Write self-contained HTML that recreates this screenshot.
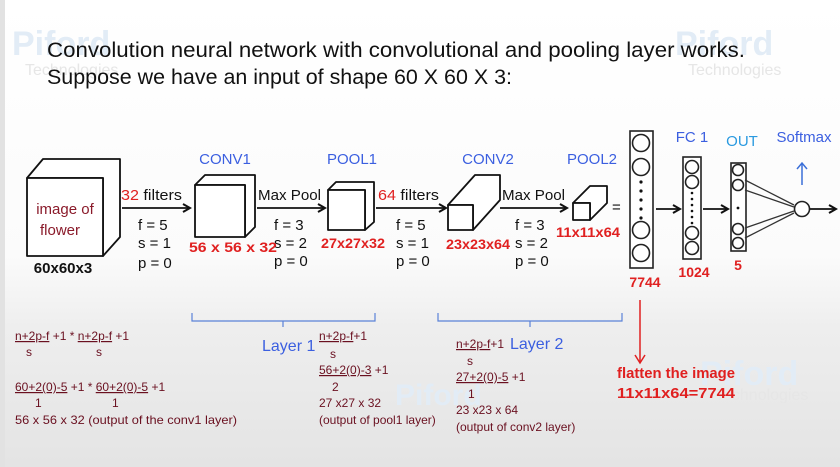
<!DOCTYPE html>
<html><head><meta charset="utf-8"><style>
html,body{margin:0;padding:0;width:840px;height:467px;overflow:hidden;}
svg{display:block;}
text{font-family:"Liberation Sans Narrow","Liberation Sans",sans-serif;}
</style></head><body>
<svg width="840" height="467" viewBox="0 0 840 467" xmlns="http://www.w3.org/2000/svg">
<defs>
<linearGradient id="bg" x1="0" y1="0" x2="0" y2="1">
<stop offset="0" stop-color="#ffffff"/><stop offset="0.55" stop-color="#fbfbfb"/><stop offset="0.7" stop-color="#eeeeee"/><stop offset="1" stop-color="#e4e4e4"/>
</linearGradient>
<marker id="ah" markerWidth="10" markerHeight="10" refX="8" refY="5" orient="auto" markerUnits="userSpaceOnUse"><path d="M1,1 L8,5 L1,9" fill="none" stroke="#111" stroke-width="2"/></marker>
</defs>
<rect width="840" height="467" fill="url(#bg)"/>
<rect x="0" y="0" width="5" height="467" fill="#e2e2e2"/>

<!-- watermarks -->
<g fill="#e2ecf6" font-weight="bold" font-family="Liberation Sans">
<text x="12" y="55" font-size="34">Piford</text>
<text x="675" y="55" font-size="34">Piford</text>
<text x="700" y="385" font-size="34">Piford</text>
<text x="395" y="405" font-size="30">Piford</text>
</g>
<g fill="#e6e6e6" font-size="16">
<text x="25" y="75">Technologies</text>
<text x="688" y="75">Technologies</text>
<text x="715" y="400">Technologies</text>
</g>

<text x="47" y="57" font-size="21" fill="#111" textLength="698" lengthAdjust="spacingAndGlyphs">Convolution neural network with convolutional and pooling layer works.</text>
<text x="47" y="84" font-size="21" fill="#111" textLength="465" lengthAdjust="spacingAndGlyphs">Suppose we have an input of shape 60 X 60 X 3:</text>

<g fill="#fff" stroke="#111" stroke-width="1.8" stroke-linejoin="round">
<path d="M27,178 L43,159 L120,159 L120,237 L103,256 L103,178 Z"/>
<rect x="27" y="178" width="76" height="78"/>
<path d="M195,185 L205,175 L255,175 L255,227 L245,237 L245,185 Z"/>
<rect x="195" y="185" width="50" height="52"/>
<path d="M328,190 L336,182 L374,182 L374,222 L365,230 L365,190 Z"/>
<rect x="328" y="190" width="37" height="40"/>
<path d="M448,205 L475,175 L500,175 L500,200 L473,230 L473,205 Z"/>
<rect x="448" y="205" width="25" height="25"/>
<path d="M573,203 L590,186 L607,186 L607,203 L590,220 L590,203 Z"/>
<rect x="573" y="203" width="17" height="17"/>
</g>

<text x="65" y="214" font-size="15" fill="#8a1a2a" text-anchor="middle">image of</text>
<text x="60" y="235" font-size="15" fill="#8a1a2a" text-anchor="middle">flower</text>
<text x="63" y="273" font-size="15" fill="#111" text-anchor="middle" font-weight="bold">60x60x3</text>

<g stroke="#111" stroke-width="1.8" marker-end="url(#ah)">
<line x1="122" y1="208" x2="190" y2="208"/>
<line x1="257" y1="208" x2="325" y2="208"/>
<line x1="376" y1="208" x2="446" y2="208"/>
<line x1="500" y1="208" x2="567" y2="208"/>
<line x1="656" y1="209" x2="680" y2="209"/>
<line x1="703" y1="209" x2="728" y2="209"/>
<line x1="810" y1="209" x2="836" y2="209"/>
</g>

<g font-size="15" fill="#111">
<text x="121" y="200" textLength="61" lengthAdjust="spacingAndGlyphs"><tspan fill="#e02020">32</tspan> filters</text>
<text x="138" y="230">f = 5</text><text x="138" y="248">s = 1</text><text x="138" y="268">p = 0</text>
<text x="258" y="200" textLength="63" lengthAdjust="spacingAndGlyphs">Max Pool</text>
<text x="274" y="230">f = 3</text><text x="274" y="248">s = 2</text><text x="274" y="266">p = 0</text>
<text x="378" y="200" textLength="61" lengthAdjust="spacingAndGlyphs"><tspan fill="#e02020">64</tspan> filters</text>
<text x="396" y="230">f = 5</text><text x="396" y="248">s = 1</text><text x="396" y="266">p = 0</text>
<text x="502" y="200" textLength="63" lengthAdjust="spacingAndGlyphs">Max Pool</text>
<text x="515" y="230">f = 3</text><text x="515" y="248">s = 2</text><text x="515" y="266">p = 0</text>
<text x="612" y="212">=</text>
</g>
<g font-size="15" fill="#3b5fe0" text-anchor="middle">
<text x="225" y="164">CONV1</text><text x="352" y="164">POOL1</text>
<text x="488" y="164">CONV2</text><text x="592" y="164">POOL2</text>
<text x="692" y="142">FC 1</text><text x="742" y="146" fill="#2a9ae0">OUT</text><text x="804" y="142">Softmax</text>
</g>
<g font-size="14" fill="#e02020" text-anchor="middle" font-weight="bold">
<text x="233" y="252" textLength="88" lengthAdjust="spacingAndGlyphs">56 x 56 x 32</text>
<text x="353" y="248" textLength="64" lengthAdjust="spacingAndGlyphs">27x27x32</text>
<text x="478" y="249" textLength="64" lengthAdjust="spacingAndGlyphs">23x23x64</text>
<text x="588" y="237" textLength="64" lengthAdjust="spacingAndGlyphs">11x11x64</text>
<text x="645" y="287">7744</text><text x="694" y="277">1024</text><text x="738" y="270">5</text>
</g>

<g fill="#fff" stroke="#222" stroke-width="1.6">
<rect x="630" y="131" width="23" height="137"/>
<circle cx="641" cy="143" r="8.5"/><circle cx="641" cy="167" r="8.5"/>
<circle cx="641" cy="230" r="8.5"/><circle cx="641" cy="253" r="8.5"/>
<rect x="683" y="157" width="18" height="102"/>
<circle cx="692" cy="167" r="6.5"/><circle cx="692" cy="182" r="6.5"/>
<circle cx="692" cy="233" r="6.5"/><circle cx="692" cy="248" r="6.5"/>
<rect x="731" y="163" width="15" height="88"/>
<circle cx="738" cy="170" r="5.5"/><circle cx="738" cy="185" r="5.5"/>
<circle cx="738" cy="229" r="5.5"/><circle cx="738" cy="243" r="5.5"/>
<circle cx="802" cy="209" r="7.5"/>
</g>
<g fill="#111">
<circle cx="641" cy="182" r="1.6"/><circle cx="641" cy="191" r="1.6"/><circle cx="641" cy="200" r="1.6"/><circle cx="641" cy="209" r="1.6"/><circle cx="641" cy="218" r="1.6"/>
<circle cx="692" cy="193" r="1.3"/><circle cx="692" cy="199" r="1.3"/><circle cx="692" cy="205" r="1.3"/><circle cx="692" cy="211" r="1.3"/><circle cx="692" cy="217" r="1.3"/><circle cx="692" cy="223" r="1.3"/>
<circle cx="738" cy="208" r="1.4"/>
</g>
<g stroke="#333" stroke-width="1.3">
<line x1="745" y1="180" x2="794" y2="205"/><line x1="745" y1="190" x2="794" y2="207"/>
<line x1="745" y1="228" x2="794" y2="211"/><line x1="745" y1="238" x2="794" y2="213"/>
</g>
<g stroke="#3b6fd8" stroke-width="1.5" fill="none">
<line x1="802" y1="185" x2="802" y2="163"/>
<path d="M797,169 L802,163 L807,169"/>
</g>

<g fill="none" stroke="#5a82d8" stroke-width="1.2">
<path d="M192,313 L192,321 L375,321 L375,313 M283,321 L283,327"/>
<path d="M438,313 L438,321 L622,321 L622,313 M530,321 L530,327"/>
</g>
<g stroke="#e02020" stroke-width="1.5" fill="none">
<line x1="640" y1="300" x2="640" y2="363"/>
<path d="M635,355 L640,363 L645,355"/>
</g>
<text x="262" y="351" font-size="16" fill="#3b5fe0">Layer 1</text>
<text x="510" y="349" font-size="16" fill="#3b5fe0">Layer 2</text>

<g font-size="12" fill="#6a1020">
<text x="15" y="340"><tspan text-decoration="underline">n+2p-f</tspan> +1  *  <tspan text-decoration="underline">n+2p-f</tspan> +1</text>
<text x="26" y="356">s</text><text x="96" y="356">s</text>
<text x="15" y="391"><tspan text-decoration="underline">60+2(0)-5</tspan> +1 * <tspan text-decoration="underline">60+2(0)-5</tspan> +1</text>
<text x="35" y="407">1</text><text x="112" y="407">1</text>
<text x="15" y="424" textLength="222" lengthAdjust="spacingAndGlyphs">56 x 56 x 32 (output of the conv1 layer)</text>

<text x="319" y="340"><tspan text-decoration="underline">n+2p-f</tspan>+1</text>
<text x="330" y="358">s</text>
<text x="319" y="374"><tspan text-decoration="underline">56+2(0)-3</tspan> +1</text>
<text x="332" y="391">2</text>
<text x="319" y="407">27 x27 x 32</text>
<text x="319" y="424">(output of pool1 layer)</text>

<text x="456" y="348"><tspan text-decoration="underline">n+2p-f</tspan>+1</text>
<text x="467" y="365">s</text>
<text x="456" y="381"><tspan text-decoration="underline">27+2(0)-5</tspan> +1</text>
<text x="468" y="398">1</text>
<text x="456" y="414">23 x23 x 64</text>
<text x="456" y="431">(output of conv2 layer)</text>
</g>
<g font-size="15" fill="#e02020" font-weight="bold">
<text x="617" y="378" textLength="118" lengthAdjust="spacingAndGlyphs">flatten the image</text>
<text x="617" y="398" textLength="118" lengthAdjust="spacingAndGlyphs">11x11x64=7744</text>
</g>
</svg>
</body></html>
